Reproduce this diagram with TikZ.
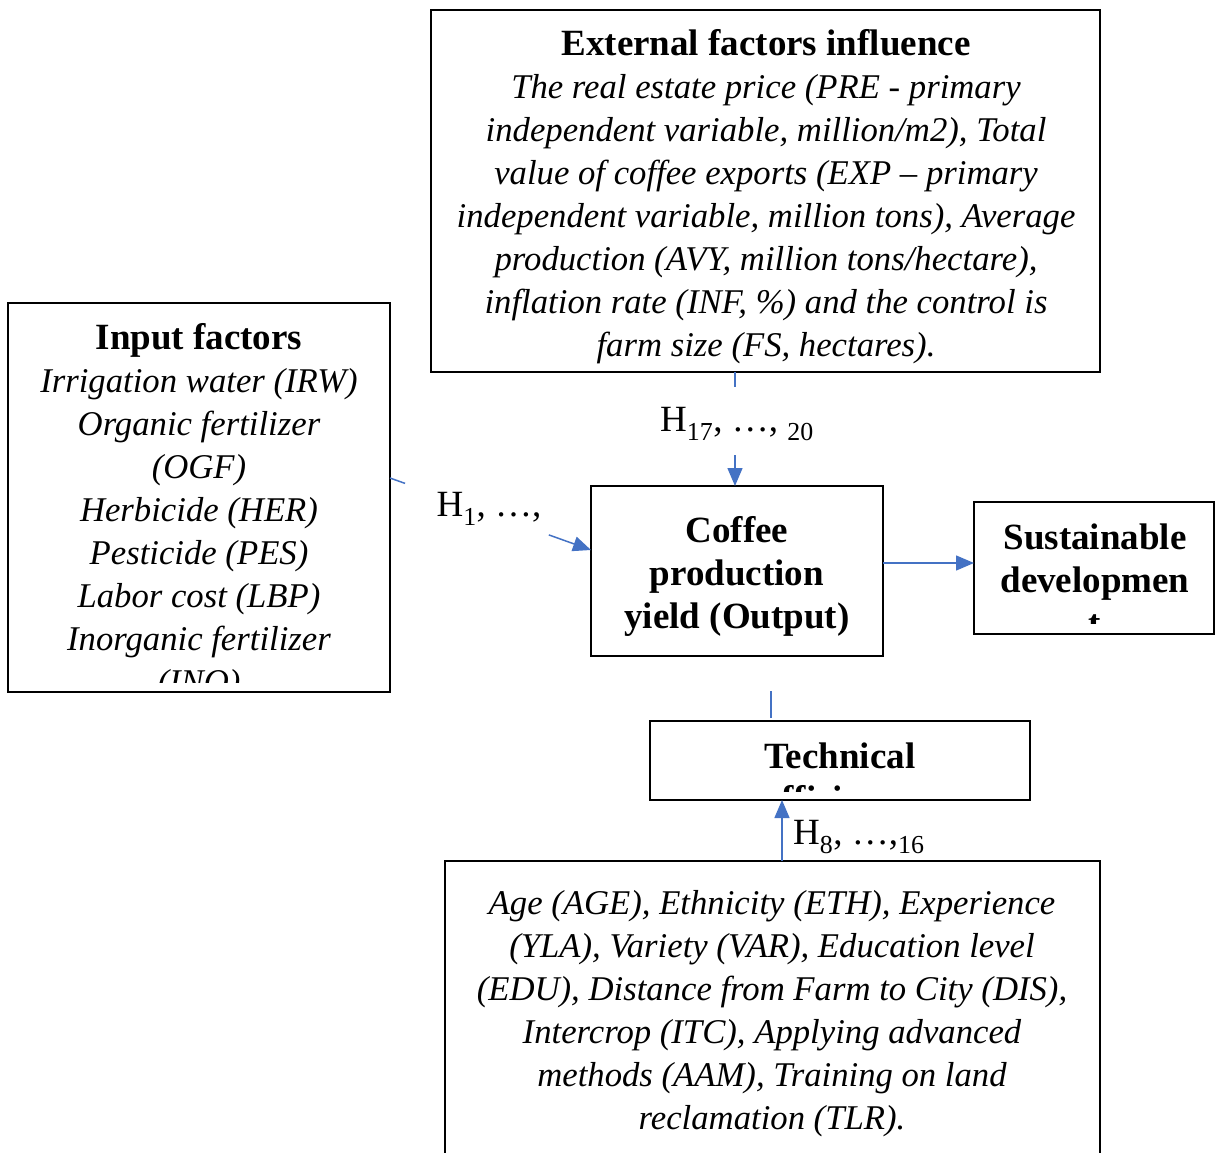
\documentclass[tikz,border=0pt]{standalone}
\usepackage{fontspec}
\setmainfont{Liberation Serif}
\usetikzlibrary{arrows.meta}
\definecolor{connblue}{HTML}{4472C4}
\newcommand{\itx}[1]{{\fontsize{34.7}{43}\selectfont\itshape #1}}
\tikzset{
  box/.style={draw=black, line width=2.5pt, inner sep=0pt, outer sep=0pt},
  txt/.style={align=center, inner sep=0pt, font=\fontsize{37}{43}\selectfont},
  lbl/.style={inner sep=0pt, font=\fontsize{37}{43}\selectfont},
  conn/.style={draw=connblue, line width=1.5pt},
  arr/.style={conn, -{Triangle[length=18pt,width=15pt]}},
}
\begin{document}
\begin{tikzpicture}[x=1pt,y=-1pt]
\useasboundingbox (0,0) rectangle (1215,1153);

% boxes
\node[box, minimum width=669pt, minimum height=362pt] (ext) at (765.5,191) {};
\node[box, minimum width=382pt, minimum height=389pt] (inp) at (199,497.5) {};
\node[box, minimum width=292pt, minimum height=170pt] (coffee) at (737,571) {};
\node[box, minimum width=240pt, minimum height=132pt] (sust) at (1094,568) {};
\node[box, minimum width=380pt, minimum height=79pt] (tech) at (840,760.5) {};
\node[box, minimum width=655pt, minimum height=320pt] (bot) at (772.5,1021) {};

% texts
\node[txt] (exttxt) at (766,197) {\textbf{External factors influence}\\
\itx{The real estate price (PRE - primary}\\
\itx{independent variable, million/m2), Total}\\
\itx{value of coffee exports (EXP – primary}\\
\itx{independent variable, million tons), Average}\\
\itx{production (AVY, million tons/hectare),}\\
\itx{inflation rate (INF, \%) and the control is}\\
\itx{farm size (FS, hectares).}};

\begin{scope}
\clip (10,305) rectangle (388,682);
\node[txt] (inptxt) at (199,512) {\textbf{Input factors}\\
\itx{Irrigation water (IRW)}\\
\itx{Organic fertilizer}\\
\itx{(OGF)}\\
\itx{Herbicide (HER)}\\
\itx{Pesticide (PES)}\\
\itx{Labor cost (LBP)}\\
\itx{Inorganic fertilizer}\\
\itx{(INO)}};
\end{scope}

\node[txt] (coffeetxt) at (737,576) {\textbf{Coffee}\\\textbf{production}\\\textbf{yield (Output)}};

\begin{scope}
\clip (976,504) rectangle (1212,623);
\node[txt] (susttxt) at (1095,580) {\textbf{Sustainable}\\\textbf{developmen}\\\textbf{t}};
\end{scope}

\begin{scope}
\clip (652,723) rectangle (1028,791);
\node[txt] (techtxt) at (840,781) {\textbf{Technical}\\\textbf{efficiency}};
\end{scope}

\node[txt] (bottxt) at (772,1014) {\itx{Age (AGE), Ethnicity (ETH), Experience}\\
\itx{(YLA), Variety (VAR), Education level}\\
\itx{(EDU), Distance from Farm to City (DIS),}\\
\itx{Intercrop (ITC), Applying advanced}\\
\itx{methods (AAM), Training on land}\\
\itx{reclamation (TLR).}};

% connectors
\path ([yshift=19.5pt]inp.east) -- ([yshift=21pt]coffee.west)
  coordinate[pos=0.075] (g1) coordinate[pos=0.79] (g2);
\draw[conn] ([yshift=19.5pt]inp.east) -- (g1);
\draw[arr] (g2) -- ([yshift=21pt]coffee.west);
\node[lbl] (h1) at (489,509) {H\textsubscript{1}, …,};

\coordinate (ct) at ([xshift=-2pt]coffee.north);
\path (ct |- ext.south) -- (ct) coordinate[pos=0.13] (g3) coordinate[pos=0.73] (g4);
\draw[conn] (ct |- ext.south) -- (g3);
\draw[arr] (g4) -- (ct);
\node[lbl] (h17) at (737,424) {H\textsubscript{17}, …, \textsubscript{20}};

\draw[arr] ([yshift=8pt]coffee.east) -- ([yshift=8pt]coffee.east -| sust.west);

\coordinate (s1) at ([xshift=-69pt,yshift=3pt]tech.north);
\coordinate (s2) at ([xshift=-69pt,yshift=30pt]tech.north);
\draw[conn] (s1) -- (s2);

\draw[arr] ([xshift=9.5pt]bot.north) -- ([xshift=9.5pt]bot.north |- tech.south);
\node[lbl, anchor=west] (h8) at (793,837) {H\textsubscript{8}, …,\textsubscript{16}};
\end{tikzpicture}
\end{document}
